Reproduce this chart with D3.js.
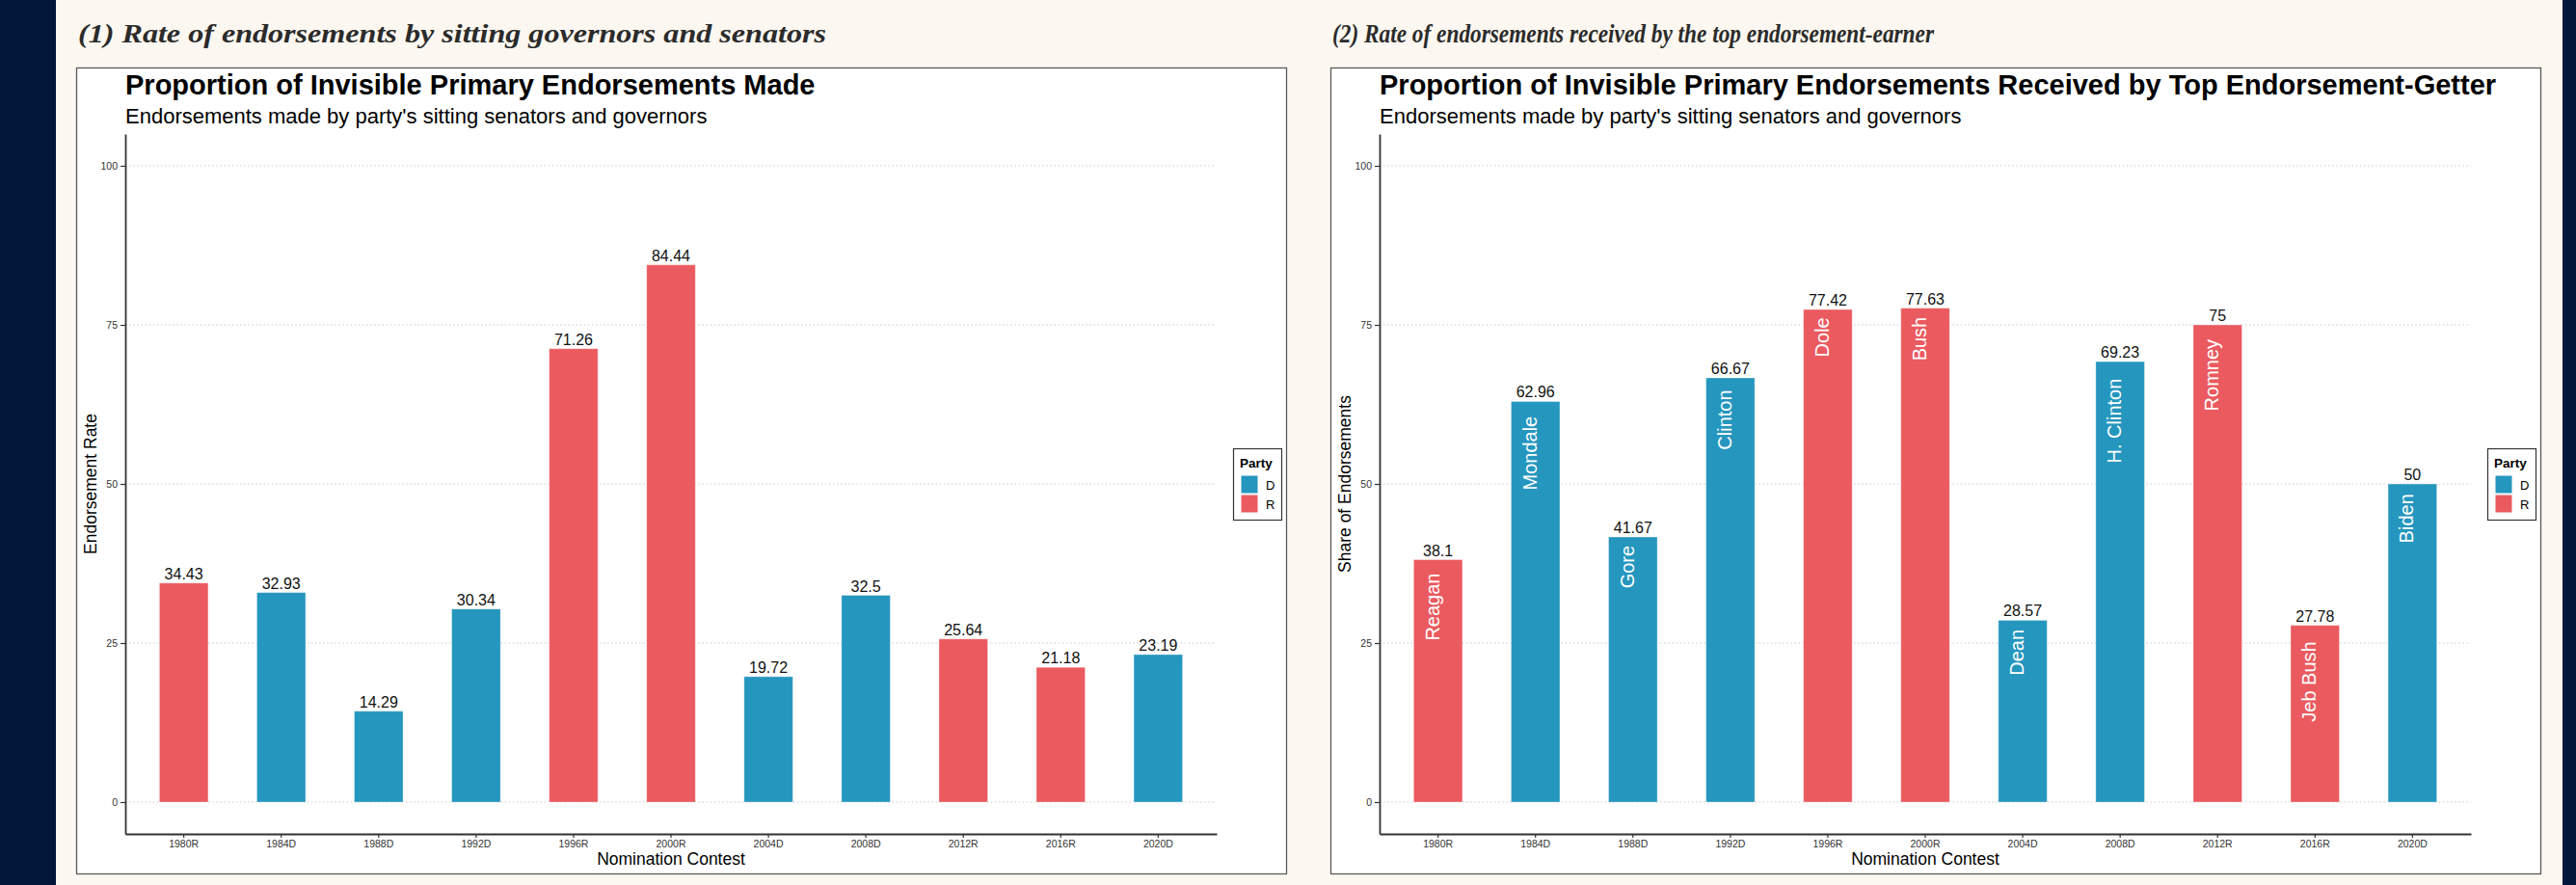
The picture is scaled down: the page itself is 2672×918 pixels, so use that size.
<!DOCTYPE html>
<html>
<head>
<meta charset="utf-8">
<script src="https://cdn.jsdelivr.net/npm/d3@7/dist/d3.min.js"></script>
<style>
  html, body { margin: 0; padding: 0; background: #fcf7f0; }
  svg { display: block; }
  text { font-family: "Liberation Sans", Arial, sans-serif; }
</style>
</head>
<body>
<svg id="chart" width="2672" height="918"></svg>
<script>
// Nomination contests (year + party) shown on both charts
const contests = ["1980R", "1984D", "1988D", "1992D", "1996R", "2000R", "2004D", "2008D", "2012R", "2016R", "2020D"];
const contestParty = ["R", "D", "D", "D", "R", "R", "D", "D", "R", "R", "D"];

// Share of sitting senators/governors who endorsed before the primaries
const endorsementRate = [34.43, 32.93, 14.29, 30.34, 71.26, 84.44, 19.72, 32.5, 25.64, 21.18, 23.19];

// Share of those endorsements won by the leading candidate
const topShare = [38.1, 62.96, 41.67, 66.67, 77.42, 77.63, 28.57, 69.23, 75, 27.78, 50];
const topCandidate = ["Reagan", "Mondale", "Gore", "Clinton", "Dole", "Bush", "Dean", "H. Clinton", "Romney", "Jeb Bush", "Biden"];

const yTickValues = [0, 25, 50, 75, 100];
const partyKeys = ["D", "R"];
const partyColors = ["#2596be", "#ea5a5f"];

const svg = d3.select("#chart");
const W = 2672, H = 918;

// page background and dark side strips
svg.append("rect").attr("width", W).attr("height", H).attr("fill", "#fcf7f0");
svg.append("rect").attr("x", 0).attr("y", 0).attr("width", 58).attr("height", H).attr("fill", "#02183a");
svg.append("rect").attr("x", 2658).attr("y", 0).attr("width", W - 2658).attr("height", H).attr("fill", "#02183a");

const color = d3.scaleOrdinal().domain(partyKeys).range(partyColors);

function drawPanel(cfg) {
  const ox = cfg.x;
  const g = svg.append("g");

  // section heading above the figure
  g.append("text")
    .attr("x", ox + 2).attr("y", 44)
    .attr("textLength", cfg.headingWidth)
    .attr("lengthAdjust", "spacingAndGlyphs")
    .style("font-family", "'Liberation Serif', 'DejaVu Serif', serif")
    .style("font-style", "italic").style("font-weight", "700")
    .style("font-size", "27px").attr("fill", "#2b2b2b")
    .text(cfg.heading);

  // figure frame
  g.append("rect")
    .attr("x", ox + 0.5).attr("y", 70.5).attr("width", 1255).attr("height", 836)
    .attr("fill", "#ffffff").attr("stroke", "#5a5a5a").attr("stroke-width", 1.3);

  const left = ox + 51, right = ox + 1183;
  const top = 139, bottom = 865;

  const x = d3.scaleBand().domain(contests).range([left, right])
    .paddingInner(0.5).paddingOuter(0.35);
  const y = d3.scaleLinear().domain([-5, 105]).range([bottom, top]);

  // titles
  g.append("text").attr("x", left).attr("y", 98)
    .style("font-size", "29px").style("font-weight", "700").attr("fill", "#000")
    .text(cfg.title);
  g.append("text").attr("x", left).attr("y", 128)
    .style("font-size", "22px").attr("fill", "#000")
    .text(cfg.subtitle);

  // dotted horizontal grid
  g.append("g").selectAll("line").data(yTickValues).join("line")
    .attr("x1", left).attr("x2", right)
    .attr("y1", d => y(d)).attr("y2", d => y(d))
    .attr("stroke", "#c9c9c9").attr("stroke-width", 1.2)
    .attr("stroke-dasharray", "1.5,2.6");

  const rows = contests.map((c, i) => ({
    contest: c, party: contestParty[i], value: cfg.values[i],
    name: cfg.names ? cfg.names[i] : null
  }));

  // bars
  g.append("g").selectAll("rect").data(rows).join("rect")
    .attr("x", d => x(d.contest))
    .attr("width", x.bandwidth())
    .attr("y", d => y(d.value))
    .attr("height", d => y(0) - y(d.value))
    .attr("fill", d => color(d.party))
    .attr("stroke", "#ffffff").attr("stroke-opacity", 0.35).attr("stroke-width", 1);

  // value labels above bars
  g.append("g").selectAll("text").data(rows).join("text")
    .attr("x", d => x(d.contest) + x.bandwidth() / 2)
    .attr("y", d => y(d.value) - 4)
    .attr("text-anchor", "middle")
    .style("font-size", "16px").attr("fill", "#111")
    .text(d => String(d.value));

  // candidate names inside bars, read bottom-to-top
  if (cfg.names) {
    const nameLabels = g.append("g").selectAll("text").data(rows).join("text")
      .attr("text-anchor", "end")
      .style("font-size", "20px").attr("fill", "#ffffff")
      .text(d => d.name);
    nameLabels.each(function (d) {
      const len = this.getComputedTextLength();
      const cx = x(d.contest) + x.bandwidth() / 2 + 1;
      d3.select(this).attr("transform",
        `translate(${cx},${y(d.value) + 0.2 * len}) rotate(-90)`);
    });
  }

  // axes
  const xAxis = g.append("g").attr("transform", `translate(0,${bottom})`)
    .call(d3.axisBottom(x).tickSize(4).tickSizeOuter(0).tickPadding(3));
  const yAxis = g.append("g").attr("transform", `translate(${left},0)`)
    .call(d3.axisLeft(y).tickValues(yTickValues).tickSize(5).tickSizeOuter(0).tickPadding(3));
  [xAxis, yAxis].forEach(a => {
    a.select(".domain").attr("stroke", "#333").attr("stroke-width", 1.8);
    a.selectAll(".tick line").attr("stroke", "#333").attr("stroke-width", 1.2);
    a.selectAll(".tick text").attr("fill", "#333")
      .style("font-family", "'Liberation Sans', Arial, sans-serif").style("font-size", "10.5px");
  });

  // axis titles
  g.append("text").attr("x", (left + right) / 2).attr("y", 897)
    .attr("text-anchor", "middle").style("font-size", "17.5px").attr("fill", "#000")
    .text("Nomination Contest");
  g.append("text")
    .attr("transform", `translate(${ox + 21},${(top + bottom) / 2}) rotate(-90)`)
    .attr("text-anchor", "middle").style("font-size", "17.5px").attr("fill", "#000")
    .text(cfg.yTitle);

  // legend
  const lg = g.append("g").attr("transform", `translate(${ox + 1200},465)`);
  lg.append("rect").attr("x", 0.5).attr("y", 0.5).attr("width", 50).attr("height", 74)
    .attr("fill", "#fff").attr("stroke", "#333").attr("stroke-width", 1.2);
  lg.append("text").attr("x", 7).attr("y", 20)
    .style("font-size", "13.5px").style("font-weight", "700").attr("fill", "#000")
    .text("Party");
  const items = lg.selectAll("g.key").data(partyKeys).join("g")
    .attr("class", "key")
    .attr("transform", (d, i) => `translate(8,${28 + i * 20})`);
  items.append("rect").attr("width", 18).attr("height", 19)
    .attr("fill", d => color(d)).attr("stroke", "#fff").attr("stroke-width", 1);
  items.append("text").attr("x", 26).attr("y", 15)
    .style("font-size", "13px").attr("fill", "#000")
    .text(d => d);
}

drawPanel({
  x: 79,
  heading: "(1) Rate of endorsements by sitting governors and senators",
  headingWidth: 776,
  title: "Proportion of Invisible Primary Endorsements Made",
  subtitle: "Endorsements made by party's sitting senators and governors",
  yTitle: "Endorsement Rate",
  values: endorsementRate,
  names: null
});

drawPanel({
  x: 1380,
  heading: "(2) Rate of endorsements received by the top endorsement-earner",
  headingWidth: 624,
  title: "Proportion of Invisible Primary Endorsements Received by Top Endorsement-Getter",
  subtitle: "Endorsements made by party's sitting senators and governors",
  yTitle: "Share of Endorsements",
  values: topShare,
  names: topCandidate
});
</script>
</body>
</html>
